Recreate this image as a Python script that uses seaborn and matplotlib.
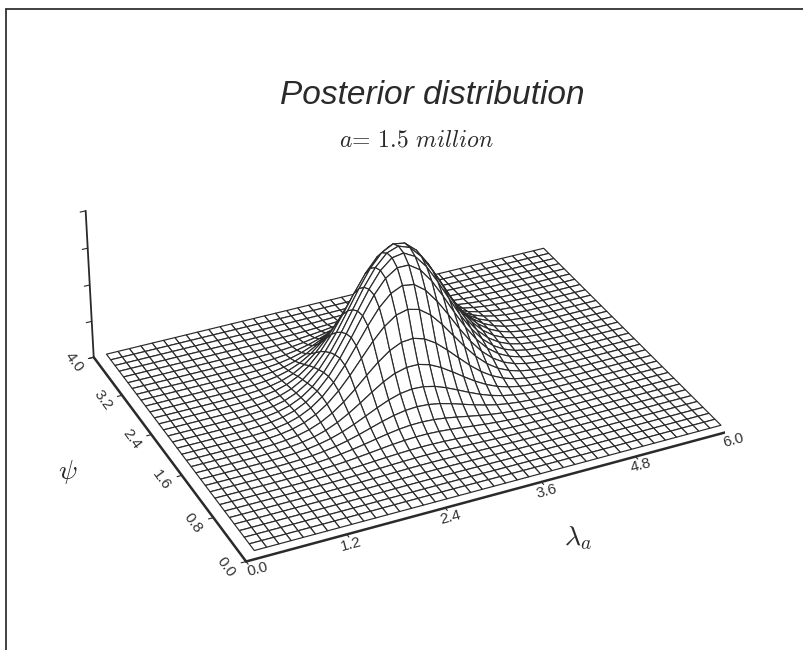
import numpy as np
import matplotlib
matplotlib.use("Agg")
import matplotlib.pyplot as plt
from matplotlib.lines import Line2D
import seaborn as sns

# tick labels
lam_ticks = [0.0, 1.2, 2.4, 3.6, 4.8, 6.0]
psi_ticks = [0.0, 0.8, 1.6, 2.4, 3.2, 4.0]
z_ticks = [0, 1, 2, 3, 4]

# height of the ridge for every psi grid line (front to back)
ridge_height = [0.0, 0.01, 0.01, 0.02, 0.03, 0.05, 0.08, 0.13, 0.24, 0.40, 0.65,
                0.97, 1.41, 1.95, 2.57, 3.06, 3.40, 3.55, 3.58, 3.50, 3.28, 2.85,
                2.33, 1.76, 1.24, 0.81, 0.48, 0.26, 0.12, 0.06, 0.02, 0.01, 0.0]

# cross sections of the hump along lambda, the ridge creeps a quarter cell per row
cross_0 = [.002, .005, .011, .023, .044, .080, .135, .216, .325, .458, .607, .755, .882, .969, 1.0,
           .969, .882, .755, .607, .458, .325, .216, .135, .080, .044, .023, .011, .005, .002]
cross_1 = [.002, .004, .009, .019, .037, .069, .119, .193, .295, .422, .569, .719, .854, .952, .998,
           .983, .909, .789, .645, .494, .356, .241, .153, .091, .051, .027, .013, .006, .003]
cross_2 = [.001, .003, .008, .016, .032, .060, .105, .172, .267, .389, .531, .682, .823, .932, .992,
           .992, .932, .823, .682, .531, .389, .267, .172, .105, .060, .032, .016, .008, .003]
cross_3 = [.001, .003, .006, .013, .027, .051, .091, .153, .241, .356, .494, .645, .789, .909, .983,
           .998, .952, .854, .719, .569, .422, .295, .193, .119, .069, .037, .019, .009, .004]

sns.set_theme(style="white")
plt.rcParams["font.family"] = ["Liberation Sans", "DejaVu Sans"]
plt.rcParams["mathtext.fontset"] = "cm"

lam = np.arange(41) * 0.15
psi = np.arange(33) * 0.125
X, Y = np.meshgrid(lam, psi)
Z = np.zeros_like(X)
crosses = [cross_0, cross_1, cross_2, cross_3]
for i, h in enumerate(ridge_height):
    col = 15 + (i + 2) // 4
    Z[i, col - 14:col + 15] = h * np.array(crosses[(i + 2) % 4])

fig = plt.figure(figsize=(8.04, 6.5), dpi=100)
ax = fig.add_axes([-2 / 804, 0.0, 1.0, 1.0], projection="3d")
ax.set_proj_type("persp", focal_length=1.0)
ax.view_init(elev=31.4, azim=-115.3)
ax.set_xlim(0, 6)
ax.set_ylim(0, 4)
ax.set_zlim(0, 4)
ax.set_box_aspect((549, 420, 188), zoom=0.985)
ax.set_xticks([])
ax.set_yticks([])
ax.set_zticks([])
ax.set_axis_off()

ax.plot_surface(X, Y, Z, rstride=1, cstride=1, color="white", edgecolor="#2a2a2a",
                linewidth=0.85, shade=False, antialiased=True)

ink = "#2a2a2a"
x0, y0 = -0.166, -0.136
ax.plot([x0, 6.0], [y0, y0], [0, 0], color=ink, lw=1.8)
ax.plot([x0, x0], [y0, 4.0], [0, 0], color=ink, lw=1.8)
ax.plot([x0, x0], [4.0, 4.0], [0, 4], color=ink, lw=1.3)

# the axis ticks run from the axis corner, not from the mesh corner
# zdir keeps the labels lined up with their axis, rotation= is ignored in 3d
for t in lam_ticks:
    p = x0 + t / 6.0 * (6.0 - x0)
    ax.plot([p, p], [y0, y0 - 0.05], [0, 0], color=ink, lw=0.8)
    ax.text(p - 0.03 + (0.08 if t == 0 else 0), y0 - 0.17, 0, f"{t:.1f}", zdir="x",
            fontsize=11, color="#333333", ha="center", va="center")
for t in psi_ticks:
    p = y0 + t / 4.0 * (4.0 - y0)
    ax.plot([x0, x0 - 0.06], [p, p], [0, 0], color=ink, lw=0.8)
    ax.text(x0 - 0.25, p, 0, f"{t:.1f}", zdir=(0, -1, 0), fontsize=11, color="#333333",
            ha="center", va="center")
for t in z_ticks:
    ax.plot([x0, x0 - 0.07], [4.0, 4.0], [t, t], color=ink, lw=0.8)

fig.add_artist(Line2D([6 / 804, 6 / 804], [0, 1 - 9 / 650], color="#333333", lw=1.3))
fig.add_artist(Line2D([6 / 804, 1], [1 - 9 / 650, 1 - 9 / 650], color="#333333", lw=1.3))

fig.text(432 / 804, 1 - 95 / 650, "Posterior distribution", fontsize=24, style="italic",
         color="#2a2a2a", ha="center", va="center")
fig.text(416 / 804, 1 - 140 / 650, r"$a$= 1.5 $million$", fontsize=17, family="cmr10",
         color="#2a2a2a", ha="center", va="center")
fig.text(68 / 804, 1 - 472 / 650, r"$\psi$", fontsize=20, color="#2a2a2a",
         ha="center", va="center")
fig.text(578 / 804, 1 - 538 / 650, r"$\lambda_a$", fontsize=20, color="#2a2a2a",
         ha="center", va="center")

fig.savefig("out.png", dpi=100)
